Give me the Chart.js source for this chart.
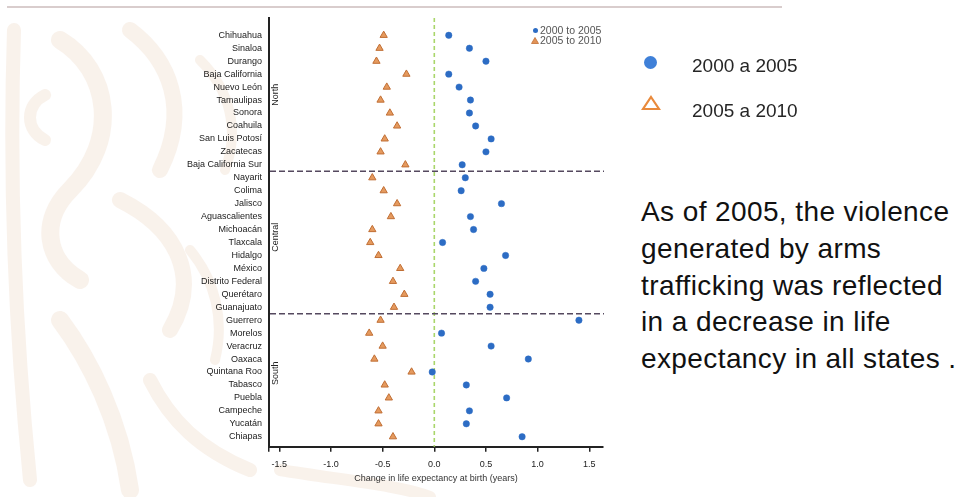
<!DOCTYPE html>
<html>
<head>
<meta charset="utf-8">
<script src="https://cdn.jsdelivr.net/npm/chart.js@4.4.0/dist/chart.umd.min.js"></script>
<style>
  html, body { margin:0; padding:0; background:#ffffff; width:961px; height:497px; overflow:hidden; }
  body { position:relative; font-family:"Liberation Sans", Arial, sans-serif; }
  #bg { position:absolute; left:0; top:0; width:961px; height:497px; }
  #topline { position:absolute; left:7px; top:6px; width:775px; height:2px; background:#d9cdcd; }
  #wrap { position:absolute; left:0; top:0; width:620px; height:497px; }
  .mini { position:absolute; font-size:10.5px; color:#555; white-space:nowrap; line-height:11px; }
  .minidot { position:absolute; width:5px; height:5px; border-radius:50%; background:#2c6cc4; }
  .legtxt { position:absolute; font-size:19px; line-height:20px; color:#262626; white-space:nowrap; }
  #para { position:absolute; left:641px; top:194.3px; font-size:28px; line-height:36.7px; letter-spacing:0.4px; color:#111; white-space:nowrap; }
</style>
</head>
<body>
<svg id="bg" viewBox="0 0 961 497" xmlns="http://www.w3.org/2000/svg">
  <g fill="none" stroke="#f6eadf" stroke-linecap="round" opacity="0.6">
    <path d="M14 30 C 10 150, 12 300, 30 480" stroke-width="14"/>
    <path d="M60 40 C 110 70, 120 140, 70 190 C 40 220, 45 260, 80 280" stroke-width="18"/>
    <path d="M45 95 C 25 105, 25 130, 45 140" stroke-width="12"/>
    <path d="M130 30 C 170 60, 190 110, 160 170" stroke-width="16"/>
    <path d="M120 200 C 180 230, 200 280, 170 330" stroke-width="16"/>
    <path d="M60 320 C 90 360, 120 420, 130 490" stroke-width="18"/>
    <path d="M150 380 C 170 420, 200 450, 250 470" stroke-width="14"/>
    <path d="M200 60 C 230 90, 240 130, 225 170" stroke-width="10"/>
    <path d="M190 250 C 215 280, 225 320, 215 360" stroke-width="10"/>
    <path d="M280 470 C 340 480, 400 485, 430 497" stroke-width="12"/>
  </g>
</svg>
<div id="topline"></div>
<div id="wrap"><canvas id="chart"></canvas></div>

<div class="minidot" style="left:532.5px; top:27.5px;"></div>
<div class="mini" style="left:540px; top:24.5px;">2000 to 2005</div>
<svg style="position:absolute; left:531px; top:37px;" width="8" height="7"><polygon points="4,0.5 7.5,6.5 0.5,6.5" fill="#e29357" stroke="#c27036" stroke-width="0.8"/></svg>
<div class="mini" style="left:540px; top:35.2px;">2005 to 2010</div>

<div style="position:absolute; left:644px; top:55.8px; width:13px; height:13px; border-radius:50%; background:#3f80d8;"></div>
<div class="legtxt" style="left:692px; top:55.9px;">2000 a 2005</div>
<svg style="position:absolute; left:641px; top:95px;" width="20" height="16"><polygon points="10,2 18,14 2,14" fill="none" stroke="#e98a3c" stroke-width="2.2" stroke-linejoin="miter"/></svg>
<div class="legtxt" style="left:692px; top:100.9px;">2005 a 2010</div>

<div id="para">As of 2005, the violence<br>generated by arms<br>trafficking was reflected<br>in a decrease in life<br>expectancy in all states .</div>

<script>
const states = ["Chihuahua","Sinaloa","Durango","Baja California","Nuevo León","Tamaulipas","Sonora","Coahuila","San Luis Potosí","Zacatecas","Baja California Sur",
  "Nayarit","Colima","Jalisco","Aguascalientes","Michoacán","Tlaxcala","Hidalgo","México","Distrito Federal","Querétaro","Guanajuato",
  "Guerrero","Morelos","Veracruz","Oaxaca","Quintana Roo","Tabasco","Puebla","Campeche","Yucatán","Chiapas"];
const groups = ["North","Central","South"];
const groupSizes = [11, 11, 10];
const change2000to2005 = [0.14,0.34,0.50,0.14,0.24,0.35,0.34,0.40,0.55,0.50,0.27,
  0.30,0.26,0.65,0.35,0.38,0.08,0.69,0.48,0.40,0.54,0.54,
  1.40,0.07,0.55,0.91,-0.02,0.31,0.70,0.34,0.31,0.85];
const change2005to2010 = [-0.49,-0.53,-0.56,-0.27,-0.46,-0.52,-0.43,-0.36,-0.48,-0.52,-0.28,
  -0.60,-0.49,-0.36,-0.42,-0.60,-0.62,-0.54,-0.33,-0.40,-0.29,-0.39,
  -0.52,-0.63,-0.50,-0.58,-0.22,-0.48,-0.44,-0.54,-0.54,-0.40];
const xTicks = [-1.5, -1.0, -0.5, 0.0, 0.5, 1.0, 1.5];
const seriesNames = ["2000 to 2005", "2005 to 2010"];

const FONT = "'Liberation Sans', Arial, sans-serif";

const overlays = {
  id: 'overlays',
  beforeDatasetsDraw(chart) {
    const {ctx, chartArea: a, scales: {x, y}} = chart;
    ctx.save();
    // zero reference line
    ctx.strokeStyle = '#a9d66a';
    ctx.lineWidth = 1.6;
    ctx.setLineDash([4, 3]);
    const x0 = x.getPixelForValue(0);
    ctx.beginPath(); ctx.moveTo(x0, a.top); ctx.lineTo(x0, a.bottom); ctx.stroke();
    // group separators
    ctx.strokeStyle = '#55495f';
    ctx.lineWidth = 1.6;
    ctx.setLineDash([6, 3]);
    let start = 0;
    groupSizes.forEach((n, gi) => {
      const end = start + n;
      if (gi < groupSizes.length - 1) {
        const yp = y.getPixelForValue(end - 0.5);
        ctx.beginPath(); ctx.moveTo(a.left + 1, yp); ctx.lineTo(a.right + 1, yp); ctx.stroke();
      }
      start = end;
    });
    // group labels
    ctx.setLineDash([]);
    ctx.fillStyle = '#222';
    ctx.font = "9px " + FONT;
    ctx.textAlign = 'center';
    ctx.textBaseline = 'middle';
    start = 0;
    groupSizes.forEach((n, gi) => {
      const mid = start + (n - 1) / 2 - 0.4;
      const yp = y.getPixelForValue(mid);
      ctx.save();
      ctx.translate(a.left + 7, yp);
      ctx.rotate(-Math.PI / 2);
      ctx.fillText(groups[gi], 0, 0);
      ctx.restore();
      start += n;
    });
    ctx.restore();
  }
};

new Chart(document.getElementById('chart'), {
  type: 'scatter',
  data: {
    datasets: [
      {
        label: seriesNames[0],
        data: states.map((s, i) => ({x: change2000to2005[i], y: i})),
        pointStyle: 'circle',
        pointRadius: 3.2,
        pointHoverRadius: 3.2,
        backgroundColor: '#2c6cc4',
        borderColor: '#2c6cc4',
        borderWidth: 0.5
      },
      {
        label: seriesNames[1],
        data: states.map((s, i) => ({x: change2005to2010[i], y: i})),
        pointStyle: 'triangle',
        pointRadius: 4.2,
        pointHoverRadius: 4.2,
        backgroundColor: '#e59a5e',
        borderColor: '#c06e34',
        borderWidth: 1
      }
    ]
  },
  options: {
    responsive: true,
    maintainAspectRatio: false,
    animation: false,
    events: [],
    layout: { padding: { left: 0, right: 17, top: 18, bottom: 0 } },
    plugins: { legend: { display: false }, tooltip: { enabled: false } },
    scales: {
      x: {
        type: 'linear',
        min: -1.6,
        max: 1.633,
        afterBuildTicks: axis => { axis.ticks = [{value: axis.min}].concat(xTicks.map(v => ({value: v}))); },
        afterFit: s => { s.height = 50.3; },
        grid: { display: true, drawOnChartArea: false, drawTicks: true, tickLength: 5, color: '#222', lineWidth: 1.5 },
        border: { display: true, color: '#222', width: 2 },
        ticks: {
          padding: 7,
          color: '#222',
          font: { family: FONT, size: 9 },
          maxRotation: 0,
          autoSkip: false,
          callback: v => xTicks.includes(v) ? v.toFixed(1) : ''
        },
        title: {
          display: true,
          text: 'Change in life expectancy at birth (years)',
          color: '#333',
          font: { family: FONT, size: 9 },
          padding: { top: 0, bottom: 13.3 }
        }
      },
      y: {
        type: 'linear',
        reverse: true,
        min: -1.336,
        max: 31.77,
        afterBuildTicks: axis => { axis.ticks = states.map((s, i) => ({value: i})); },
        afterFit: s => { s.width = 269; },
        grid: { display: false, drawTicks: false },
        border: { display: true, color: '#222', width: 2 },
        ticks: {
          padding: 7,
          color: '#1a1a1a',
          autoSkip: false,
          font: { family: FONT, size: 9 },
          callback: v => states[v] !== undefined ? states[v] : ''
        }
      }
    }
  },
  plugins: [overlays]
});
</script>
</body>
</html>
